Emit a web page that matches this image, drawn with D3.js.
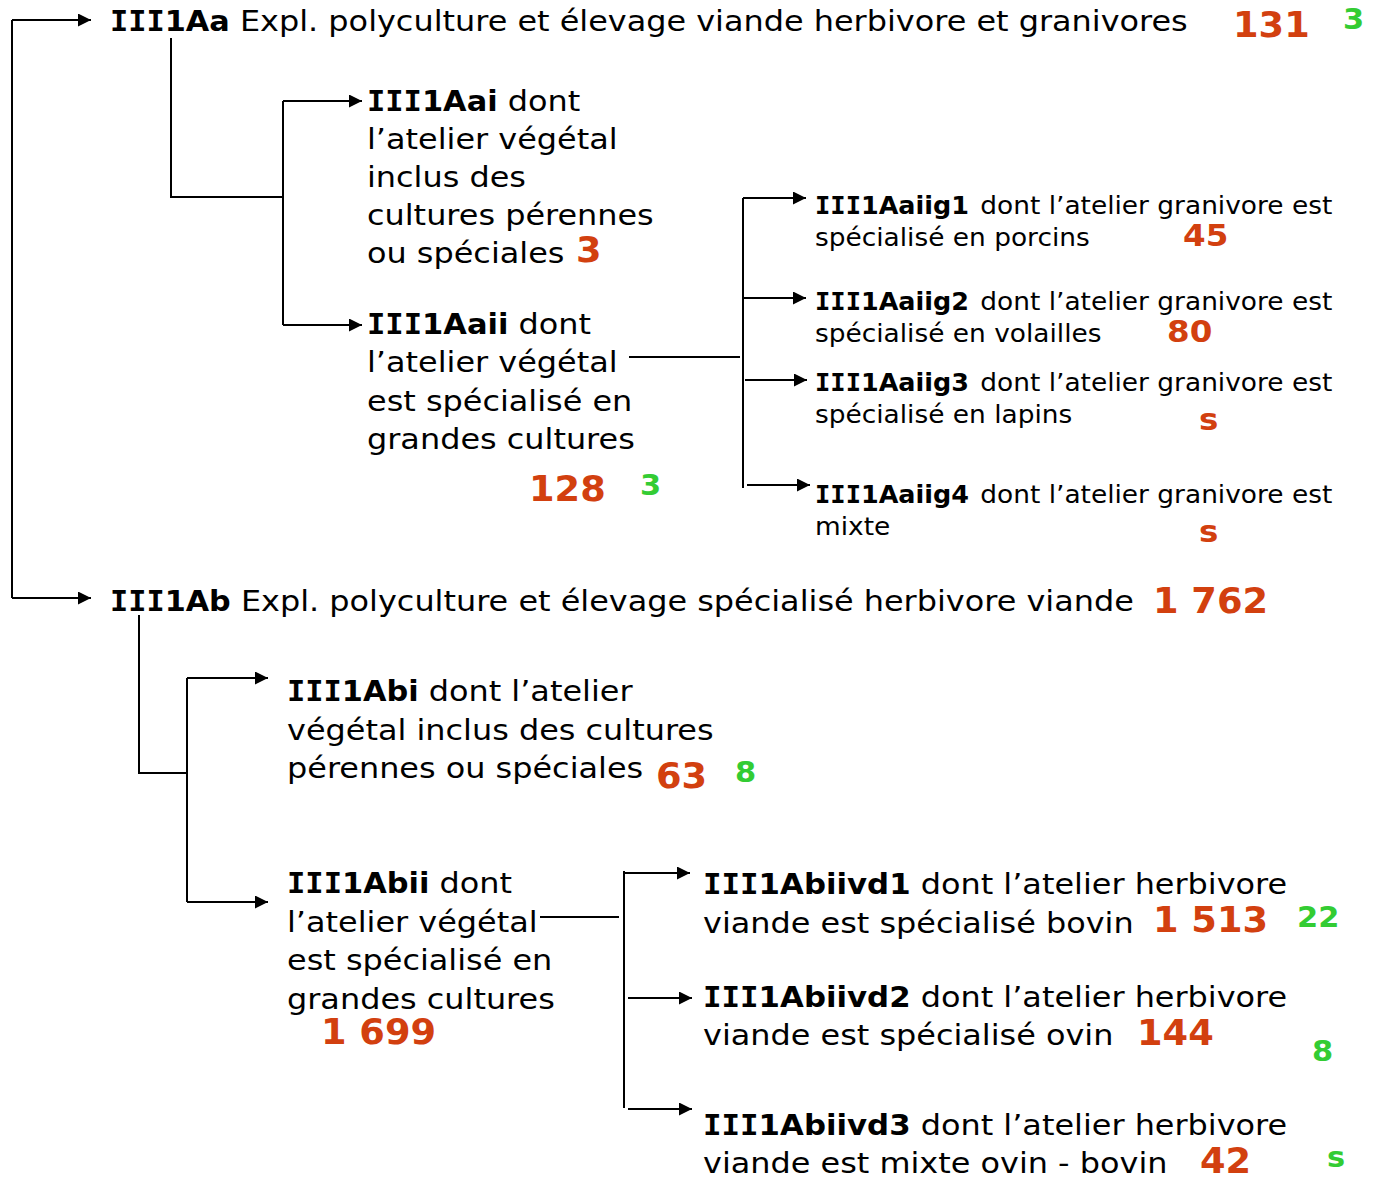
<!DOCTYPE html>
<html><head><meta charset="utf-8">
<script src="https://cdn.jsdelivr.net/npm/d3@7"></script>
<style>html,body{margin:0;padding:0;background:#fff;}svg{display:block;}</style>
</head><body>
<script>
// ---------- DATA ----------
const nodeCodes = ["III1Aa","III1Aai","III1Aaii","III1Aaiig1","III1Aaiig2","III1Aaiig3","III1Aaiig4",
                   "III1Ab","III1Abi","III1Abii","III1Abiivd1","III1Abiivd2","III1Abiivd3"];
const nodeTexts = [
  [" Expl. polyculture et élevage viande herbivore et granivores"],
  [" dont","l’atelier végétal","inclus des","cultures pérennes","ou spéciales"],
  [" dont","l’atelier végétal","est spécialisé en","grandes cultures"],
  [" dont l’atelier granivore est","spécialisé en porcins"],
  [" dont l’atelier granivore est","spécialisé en volailles"],
  [" dont l’atelier granivore est","spécialisé en lapins"],
  [" dont l’atelier granivore est","mixte"],
  [" Expl. polyculture et élevage spécialisé herbivore viande"],
  [" dont l’atelier","végétal inclus des cultures","pérennes ou spéciales"],
  [" dont","l’atelier végétal","est spécialisé en","grandes cultures"],
  [" dont l’atelier herbivore","viande est spécialisé bovin"],
  [" dont l’atelier herbivore","viande est spécialisé ovin"],
  [" dont l’atelier herbivore","viande est mixte ovin - bovin"]
];
const countsRed   = ["131","3","128","45","80","s","s","1 762","63","1 699","1 513","144","42"];
const countsGreen = ["3", "", "3", "", "", "", "", "", "8", "", "22", "8", "s"];

// ---------- LAYOUT (code, not data) ----------
const W = 1375, H = 1181;
const RED = "#d2400f", GREEN = "#33cc33";
const FONT = "Verdana, 'DejaVu Sans', sans-serif";
const SERIF_I_FONT = "'DejaVu Sans Mono', monospace";
const NORMAL_STRETCH = 1.10;
const NUM_STRETCH = 1.05;
const BOLD_EM = {I:0.545,"1":0.711,"2":0.711,"3":0.711,"4":0.711,A:0.776,a:0.668,b:0.699,d:0.699,g:0.699,i:0.342,v:0.652};
const BOLD_K = 1.09;
const layout = [
  {x:110, y:31,  step:38, fs:29, gap:0, red:[1233,37,35], green:[1343,29,29]},
  {x:367, y:111, step:38, fs:29, gap:0, red:[576,262,35], green:null},
  {x:367, y:334, step:38.3, fs:29, gap:0, red:[529,501,35], green:[640,495,29]},
  {x:815, y:214, step:32, fs:24, gap:3, red:[1183,246,31], green:null},
  {x:815, y:310, step:32, fs:24, gap:3, red:[1167,342,31], green:null},
  {x:815, y:391, step:32, fs:24, gap:3, red:[1199,430,31], green:null},
  {x:815, y:503, step:32, fs:24, gap:3, red:[1199,542,31], green:null},
  {x:110, y:611, step:38, fs:29, gap:0, red:[1153,613,35], green:null},
  {x:287, y:701, step:38.5, fs:29, gap:0, red:[656,788,35], green:[735,782,29]},
  {x:287, y:893, step:38.5, fs:29, gap:0, red:[321,1044,35], green:null},
  {x:703, y:894, step:38.5, fs:29, gap:0, red:[1153,932,35], green:[1297,927,29]},
  {x:703, y:1007, step:38, fs:29, gap:0, red:[1137,1045,35], green:[1312,1061,29]},
  {x:703, y:1135, step:38, fs:29, gap:0, red:[1200,1173,35], green:[1327,1167,29]}
];

const svg = d3.select("body").append("svg").attr("width", W).attr("height", H)
  .attr("viewBox", `0 0 ${W} ${H}`);

svg.append("defs").append("marker")
  .attr("id","arr").attr("viewBox","0 0 10 10").attr("refX",10).attr("refY",5)
  .attr("markerWidth",13).attr("markerHeight",13).attr("markerUnits","userSpaceOnUse")
  .attr("orient","auto")
  .append("path").attr("d","M0,0 L10,5 L0,10 Z").attr("fill","#000");

// ---------- CONNECTORS ----------
const line = d3.line();
const connectors = [
  {pts:[[12,20],[12,598]], arrow:false},
  {pts:[[12,20],[91,20]], arrow:true},
  {pts:[[12,598],[91,598]], arrow:true},
  {pts:[[171,38],[171,197],[283,197]], arrow:false},
  {pts:[[283,101],[283,325]], arrow:false},
  {pts:[[283,101],[362,101]], arrow:true},
  {pts:[[283,325],[362,325]], arrow:true},
  {pts:[[629,357],[740,357]], arrow:false},
  {pts:[[743,198],[743,488]], arrow:false},
  {pts:[[743,198],[806,198]], arrow:true},
  {pts:[[743,298],[806,298]], arrow:true},
  {pts:[[745,380],[807,380]], arrow:true},
  {pts:[[747,485],[810,485]], arrow:true},
  {pts:[[139,615],[139,773],[187,773]], arrow:false},
  {pts:[[187,678],[187,902]], arrow:false},
  {pts:[[187,678],[268,678]], arrow:true},
  {pts:[[187,902],[268,902]], arrow:true},
  {pts:[[540,917],[619,917]], arrow:false},
  {pts:[[624,871],[624,1108]], arrow:false},
  {pts:[[625,873],[690,873]], arrow:true},
  {pts:[[628,998],[692,998]], arrow:true},
  {pts:[[628,1109],[692,1109]], arrow:true}
];
svg.append("g").selectAll("path").data(connectors).join("path")
  .attr("d", d => line(d.pts))
  .attr("fill","none").attr("stroke","#000").attr("stroke-width",2)
  .attr("marker-end", d => d.arrow ? "url(#arr)" : null);

// ---------- LABELS ----------
const nodes = nodeCodes.map((c,i) => ({code:c, lines:nodeTexts[i], red:countsRed[i], green:countsGreen[i], L:layout[i]}));
const g = svg.append("g").attr("font-family", FONT).attr("fill","#000");

function stretched(x, y, fs, str, weight, fill, k) {
  const t = g.append("text").attr("x", x).attr("y", y).attr("font-size", fs)
    .attr("font-weight", weight).attr("fill", fill).style("white-space","pre").text(str);
  const w = t.node().getComputedTextLength();
  t.attr("textLength", w*k).attr("lengthAdjust","spacingAndGlyphs");
  return w*k;
}

function codeRuns(code) {
  // split into runs of "I" (serifed capital) and other characters
  return code.match(/I+|[^I]+/g).map(s => ({s, serif: s[0] === "I"}));
}

nodes.forEach(n => {
  const L = n.L;
  n.lines.forEach((ln, k) => {
    const y = L.y + L.step*k;
    let x = L.x;
    if (k === 0) {
      const target = [...n.code].reduce((s,ch) => s + (BOLD_EM[ch]||0.7), 0) * L.fs * BOLD_K;
      const t = g.append("text").attr("x", x).attr("y", y).attr("font-size", L.fs)
        .attr("font-weight","bold");
      t.selectAll("tspan").data(codeRuns(n.code)).join("tspan")
        .attr("font-family", d => d.serif ? SERIF_I_FONT : null)
        .text(d => d.s);
      t.attr("textLength", target).attr("lengthAdjust","spacingAndGlyphs");
      x += target + L.gap;
    }
    stretched(x, y, L.fs, ln, "normal", "#000", NORMAL_STRETCH);
  });
  if (n.red) stretched(L.red[0], L.red[1], L.red[2], n.red, "bold", RED, NUM_STRETCH);
  if (n.green && L.green) stretched(L.green[0], L.green[1], L.green[2], n.green, "bold", GREEN, NUM_STRETCH);
});
</script>
</body></html>
